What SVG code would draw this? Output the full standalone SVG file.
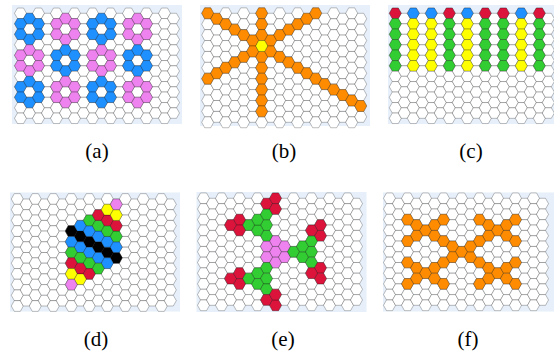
<svg xmlns="http://www.w3.org/2000/svg" width="554" height="354" viewBox="0 0 554 354">
<style>
.bg{fill:#e6effa}
.w{fill:#fff}
.B{fill:#1e90ff}.P{fill:#ee82ee}.O{fill:#ff8c00}.Y{fill:#ffff00}.G{fill:#32cd32}.R{fill:#dc143c}.K{fill:#000}
text{font-family:"Liberation Serif","Times New Roman",serif;font-size:21px;text-anchor:middle;fill:#000}
</style>
<defs>
<polygon id="h" points="-6,0 -3,-1 3,-1 6,0 3,1 -3,1" stroke="#000" stroke-opacity="0.26" stroke-width="1" vector-effect="non-scaling-stroke"/>
<g id="ce"><use href="#h" y="0"/><use href="#h" y="2"/><use href="#h" y="4"/><use href="#h" y="6"/><use href="#h" y="8"/><use href="#h" y="10"/><use href="#h" y="12"/><use href="#h" y="14"/><use href="#h" y="16"/><use href="#h" y="18"/><use href="#h" y="20"/></g>
<g id="co"><use href="#h" y="1"/><use href="#h" y="3"/><use href="#h" y="5"/><use href="#h" y="7"/><use href="#h" y="9"/><use href="#h" y="11"/><use href="#h" y="13"/><use href="#h" y="15"/><use href="#h" y="17"/><use href="#h" y="19"/></g>
<g id="grid" class="w"><use href="#ce" x="0"/><use href="#co" x="9"/><use href="#ce" x="18"/><use href="#co" x="27"/><use href="#ce" x="36"/><use href="#co" x="45"/><use href="#ce" x="54"/><use href="#co" x="63"/><use href="#ce" x="72"/><use href="#co" x="81"/><use href="#ce" x="90"/><use href="#co" x="99"/><use href="#ce" x="108"/><use href="#co" x="117"/><use href="#ce" x="126"/><use href="#co" x="135"/><use href="#ce" x="144"/><use href="#co" x="153"/></g>
<g id="ring"><use href="#h" y="-2"/><use href="#h" y="2"/><use href="#h" x="-9" y="-1"/><use href="#h" x="-9" y="1"/><use href="#h" x="9" y="-1"/><use href="#h" x="9" y="1"/></g>
<g id="c5"><use href="#h" y="2"/><use href="#h" y="4"/><use href="#h" y="6"/><use href="#h" y="8"/><use href="#h" y="10"/></g>
<g id="xs"><use href="#h"/><use href="#h" x="-9" y="-1"/><use href="#h" x="-18" y="-2"/><use href="#h" x="9" y="-1"/><use href="#h" x="18" y="-2"/><use href="#h" x="-9" y="1"/><use href="#h" x="-18" y="2"/><use href="#h" x="9" y="1"/><use href="#h" x="18" y="2"/></g>
</defs>

<g id="panel-a">
<rect class="bg" x="12" y="5" width="170" height="119"/>
<g transform="translate(20.5,13.3) scale(1,5.25)">
<use href="#grid"/>
<use href="#ring" x="9" y="3" class="B"/><use href="#ring" x="45" y="3" class="P"/><use href="#ring" x="81" y="3" class="B"/><use href="#ring" x="117" y="3" class="P"/>
<use href="#ring" x="9" y="9" class="P"/><use href="#ring" x="45" y="9" class="B"/><use href="#ring" x="81" y="9" class="P"/><use href="#ring" x="117" y="9" class="B"/>
<use href="#ring" x="9" y="15" class="B"/><use href="#ring" x="45" y="15" class="P"/><use href="#ring" x="81" y="15" class="B"/><use href="#ring" x="117" y="15" class="P"/>
</g>
<text x="97" y="158">(a)</text>
</g>

<g id="panel-b">
<rect class="bg" x="200" y="5" width="170" height="121"/>
<g transform="translate(207.7,13.3) scale(1,5.45)">
<use href="#grid"/>
<g class="O">
<use href="#h" x="54" y="0"/><use href="#h" x="54" y="2"/><use href="#h" x="54" y="4"/><use href="#h" x="54" y="8"/><use href="#h" x="54" y="10"/><use href="#h" x="54" y="12"/><use href="#h" x="54" y="14"/><use href="#h" x="54" y="16"/><use href="#h" x="54" y="18"/>
<use href="#h" x="0" y="0"/><use href="#h" x="9" y="1"/><use href="#h" x="18" y="2"/><use href="#h" x="27" y="3"/><use href="#h" x="36" y="4"/><use href="#h" x="45" y="5"/>
<use href="#h" x="63" y="5"/><use href="#h" x="72" y="4"/><use href="#h" x="81" y="3"/><use href="#h" x="90" y="2"/><use href="#h" x="99" y="1"/><use href="#h" x="108" y="0"/>
<use href="#h" x="0" y="12"/><use href="#h" x="9" y="11"/><use href="#h" x="18" y="10"/><use href="#h" x="27" y="9"/><use href="#h" x="36" y="8"/><use href="#h" x="45" y="7"/>
<use href="#h" x="63" y="7"/><use href="#h" x="72" y="8"/><use href="#h" x="81" y="9"/><use href="#h" x="90" y="10"/><use href="#h" x="99" y="11"/><use href="#h" x="108" y="12"/><use href="#h" x="117" y="13"/><use href="#h" x="126" y="14"/><use href="#h" x="135" y="15"/><use href="#h" x="144" y="16"/><use href="#h" x="153" y="17"/>
</g>
<use href="#h" x="54" y="6" class="Y"/>
</g>
<text x="284" y="158">(b)</text>
</g>

<g id="panel-c">
<rect class="bg" x="388" y="5" width="166" height="119"/>
<g transform="translate(395.3,13.3) scale(1,5.25)">
<use href="#grid"/>
<use href="#h" x="0" class="R"/><use href="#h" x="18" class="B"/><use href="#h" x="36" class="B"/><use href="#h" x="54" class="R"/><use href="#h" x="72" class="B"/><use href="#h" x="90" class="R"/><use href="#h" x="108" class="R"/><use href="#h" x="126" class="B"/><use href="#h" x="144" class="R"/>
<use href="#c5" x="0" class="G"/><use href="#c5" x="18" class="Y"/><use href="#c5" x="36" class="Y"/><use href="#c5" x="54" class="G"/><use href="#c5" x="72" class="Y"/><use href="#c5" x="90" class="G"/><use href="#c5" x="108" class="G"/><use href="#c5" x="126" class="Y"/><use href="#c5" x="144" class="G"/>
</g>
<text x="471" y="158">(c)</text>
</g>

<g id="panel-d">
<rect class="bg" x="10" y="192.5" width="170" height="119"/>
<g transform="translate(17.3,199) scale(1,5.35)">
<use href="#grid"/>
<g class="K"><use href="#h" x="54" y="6"/><use href="#h" x="63" y="7"/><use href="#h" x="72" y="8"/><use href="#h" x="81" y="9"/><use href="#h" x="90" y="10"/><use href="#h" x="99" y="11"/></g>
<g class="B"><use href="#h" x="63" y="5"/><use href="#h" x="72" y="6"/><use href="#h" x="81" y="7"/><use href="#h" x="90" y="8"/><use href="#h" x="99" y="9"/>
<use href="#h" x="54" y="8"/><use href="#h" x="63" y="9"/><use href="#h" x="72" y="10"/><use href="#h" x="81" y="11"/><use href="#h" x="90" y="12"/></g>
<g class="G"><use href="#h" x="72" y="4"/><use href="#h" x="81" y="5"/><use href="#h" x="90" y="6"/><use href="#h" x="99" y="7"/>
<use href="#h" x="54" y="10"/><use href="#h" x="63" y="11"/><use href="#h" x="72" y="12"/><use href="#h" x="81" y="13"/></g>
<g class="R"><use href="#h" x="81" y="3"/><use href="#h" x="90" y="4"/><use href="#h" x="99" y="5"/>
<use href="#h" x="54" y="12"/><use href="#h" x="63" y="13"/><use href="#h" x="72" y="14"/></g>
<g class="Y"><use href="#h" x="90" y="2"/><use href="#h" x="99" y="3"/><use href="#h" x="54" y="14"/><use href="#h" x="63" y="15"/></g>
<g class="P"><use href="#h" x="99" y="1"/><use href="#h" x="54" y="16"/></g>
</g>
<text x="96" y="346">(d)</text>
</g>

<g id="panel-e">
<rect class="bg" x="196.5" y="192" width="170" height="120"/>
<g transform="translate(203.5,198.3) scale(1,5.35)">
<use href="#grid"/>
<g class="P"><use href="#h" x="72" y="10"/><use href="#h" x="72" y="8"/><use href="#h" x="72" y="12"/><use href="#h" x="63" y="9"/><use href="#h" x="63" y="11"/><use href="#h" x="81" y="9"/><use href="#h" x="81" y="11"/></g>
<g class="G"><use href="#h" x="63" y="7"/><use href="#h" x="63" y="5"/><use href="#h" x="54" y="6"/><use href="#h" x="54" y="4"/><use href="#h" x="63" y="3"/><use href="#h" x="45" y="5"/>
<use href="#h" x="90" y="10"/><use href="#h" x="99" y="11"/><use href="#h" x="99" y="9"/><use href="#h" x="108" y="10"/><use href="#h" x="108" y="12"/><use href="#h" x="108" y="8"/>
<use href="#h" x="63" y="13"/><use href="#h" x="54" y="14"/><use href="#h" x="63" y="15"/><use href="#h" x="54" y="16"/><use href="#h" x="45" y="15"/><use href="#h" x="63" y="17"/></g>
<g class="R"><use href="#h" x="63" y="1"/><use href="#h" x="36" y="4"/><use href="#h" x="72" y="0"/><use href="#h" x="27" y="5"/><use href="#h" x="72" y="2"/><use href="#h" x="36" y="6"/>
<use href="#h" x="117" y="13"/><use href="#h" x="117" y="7"/><use href="#h" x="117" y="15"/><use href="#h" x="117" y="5"/><use href="#h" x="108" y="14"/><use href="#h" x="108" y="6"/>
<use href="#h" x="36" y="16"/><use href="#h" x="63" y="19"/><use href="#h" x="27" y="15"/><use href="#h" x="72" y="20"/><use href="#h" x="36" y="14"/><use href="#h" x="72" y="18"/></g>
</g>
<text x="283" y="346">(e)</text>
</g>

<g id="panel-f">
<rect class="bg" x="383" y="192.5" width="171" height="119"/>
<g transform="translate(389.5,198.3) scale(1,5.35)">
<use href="#grid"/>
<g class="O"><use href="#xs" x="36" y="6"/><use href="#xs" x="108" y="6"/><use href="#xs" x="36" y="14"/><use href="#xs" x="108" y="14"/>
<use href="#h" x="63" y="9"/><use href="#h" x="72" y="10"/><use href="#h" x="81" y="11"/><use href="#h" x="81" y="9"/><use href="#h" x="63" y="11"/></g>
</g>
<text x="468" y="346">(f)</text>
</g>
</svg>
